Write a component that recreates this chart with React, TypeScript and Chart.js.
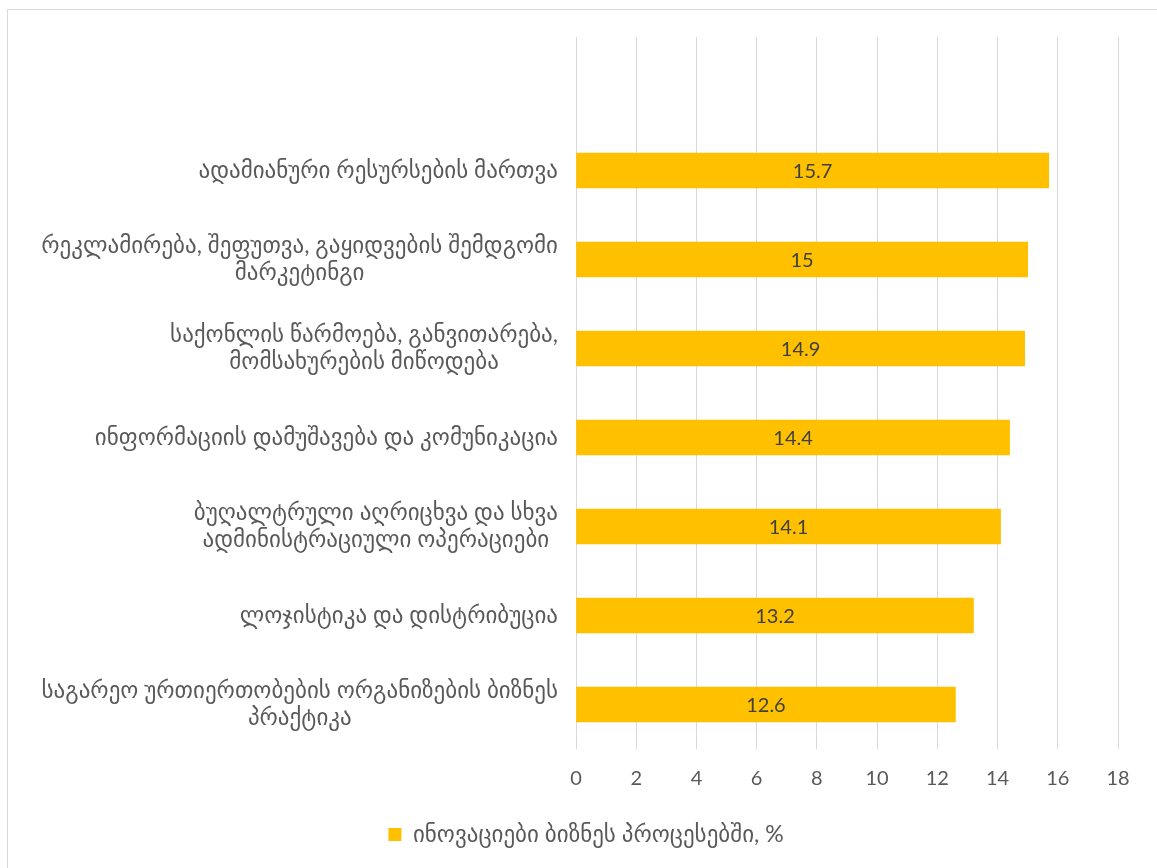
import { useEffect, useRef } from 'react';
import { Chart, registerables } from 'chart.js';

Chart.register(...registerables);

// Categories, top to bottom; the first slot is an empty row above the bars.
const categories: string[][] = [
  [''],
  ['ადამიანური რესურსების მართვა'],
  ['რეკლამირება, შეფუთვა, გაყიდვების შემდგომი', 'მარკეტინგი'],
  ['საქონლის წარმოება, განვითარება,', 'მომსახურების მიწოდება'],
  ['ინფორმაციის დამუშავება და კომუნიკაცია'],
  ['ბუღალტრული აღრიცხვა და სხვა', 'ადმინისტრაციული ოპერაციები'],
  ['ლოჯისტიკა და დისტრიბუცია'],
  ['საგარეო ურთიერთობების ორგანიზების ბიზნეს', 'პრაქტიკა'],
];
const values: (number | null)[] = [null, 15.7, 15, 14.9, 14.4, 14.1, 13.2, 12.6];
const seriesLabel = 'ინოვაციები ბიზნეს პროცესებში, %';
const xMin = 0;
const xMax = 18;
const xStep = 2;

const FONT = "Lato, 'DejaVu Sans', sans-serif";
const TEXT = '#595959';
const BAR = '#FFC000';
const GRID = '#D9D9D9';
const LABEL_SIZE = 23;
const NUMBER_SIZE = 20;

// Category labels: each block right-aligned to the axis, its lines centred on each other.
const categoryLabels = {
  id: 'categoryLabels',
  afterDraw(chart: any) {
    const y = chart.scales.y;
    const ctx = chart.ctx;
    ctx.save();
    ctx.font = `${LABEL_SIZE}px ${FONT}`;
    ctx.fillStyle = TEXT;
    ctx.textAlign = 'center';
    ctx.textBaseline = 'middle';
    const right = chart.chartArea.left - 18;
    const lh = 27;
    categories.forEach((lines, i) => {
      const cy = y.getPixelForValue(i);
      const widest = Math.max(...lines.map((l) => ctx.measureText(l).width));
      const cx = right - widest / 2;
      const top = cy - ((lines.length - 1) * lh) / 2;
      lines.forEach((l, k) => ctx.fillText(l, cx, top + k * lh));
    });
    ctx.restore();
  },
};

// Value written in the middle of each bar.
const barValues = {
  id: 'barValues',
  afterDatasetsDraw(chart: any) {
    const ctx = chart.ctx;
    const meta = chart.getDatasetMeta(0);
    ctx.save();
    ctx.font = `${NUMBER_SIZE}px ${FONT}`;
    ctx.fillStyle = '#404040';
    ctx.textAlign = 'center';
    ctx.textBaseline = 'middle';
    meta.data.forEach((bar: any, i: number) => {
      const v = values[i];
      if (v == null) return;
      ctx.fillText(String(v), (bar.x + bar.base) / 2, bar.y + 1);
    });
    ctx.restore();
  },
};

export default function App() {
  const ref = useRef<HTMLCanvasElement>(null);

  useEffect(() => {
    if (!ref.current) return;
    const chart = new Chart(ref.current, {
      type: 'bar',
      data: {
        labels: categories.map((c) => c.join(' ')),
        datasets: [
          {
            label: seriesLabel,
            data: values,
            backgroundColor: BAR,
            borderWidth: 0,
            barThickness: 35,
          },
        ],
      },
      options: {
        indexAxis: 'y',
        responsive: false,
        animation: false,
        layout: { padding: { left: 54, right: 39, top: 37, bottom: 12 } },
        plugins: {
          tooltip: { enabled: false },
          legend: {
            position: 'bottom',
            labels: {
              boxWidth: 13,
              boxHeight: 13,
              padding: 10,
              color: TEXT,
              font: { family: FONT, size: LABEL_SIZE },
            },
          },
        },
        scales: {
          x: {
            min: xMin,
            max: xMax,
            ticks: {
              stepSize: xStep,
              color: TEXT,
              font: { family: FONT, size: NUMBER_SIZE },
              padding: 18,
            },
            grid: { color: GRID, lineWidth: 1, drawTicks: false },
            border: { display: false },
            afterFit: (s: any) => {
              s.height = 64;
            },
          },
          y: {
            ticks: { display: false },
            grid: { display: false },
            border: { display: false },
            afterFit: (s: any) => {
              s.width = 522;
            },
          },
        },
      },
      plugins: [categoryLabels, barValues],
    });
    return () => chart.destroy();
  }, []);

  return (
    <div style={{ position: 'fixed', inset: 0, overflow: 'hidden', background: '#fff' }}>
      <div
        style={{
          position: 'absolute',
          left: 7,
          top: 9,
          width: 1200,
          height: 900,
          border: `1px solid ${GRID}`,
        }}
      />
      <canvas
        ref={ref}
        width={1157}
        height={868}
        style={{ position: 'absolute', left: 0, top: 0, display: 'block' }}
      />
    </div>
  );
}
